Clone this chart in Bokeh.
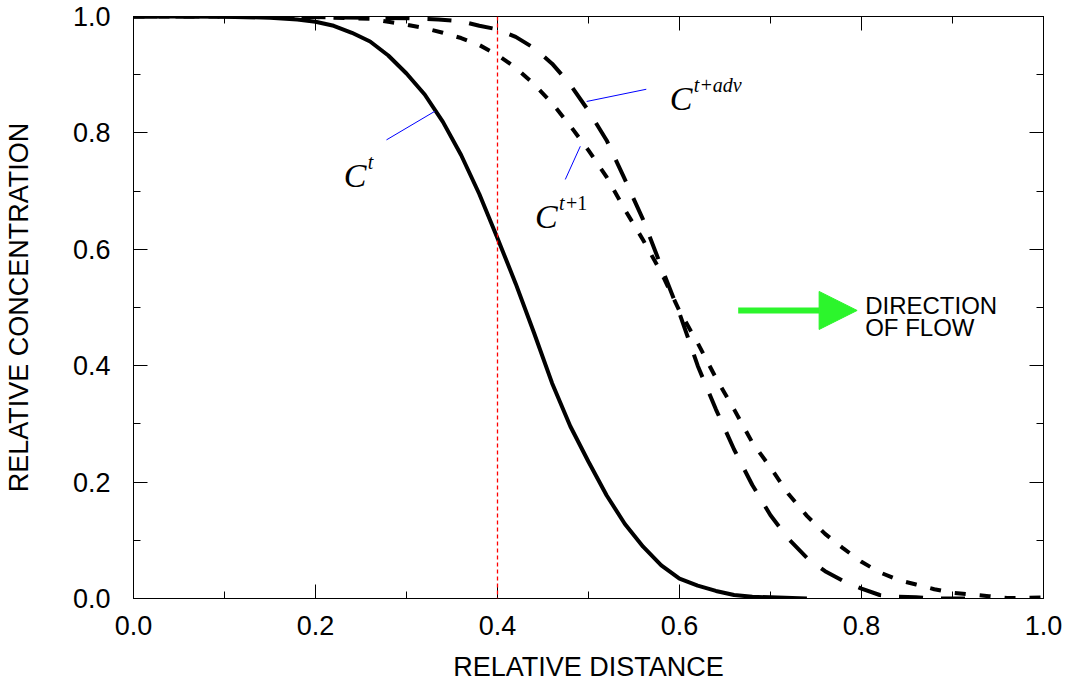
from bokeh.plotting import figure
from bokeh.models import (Range1d, LinearAxis, SingleIntervalTicker, PrintfTickFormatter,
                          Span, Label, Arrow, NormalHead, CustomJSTickFormatter)
from bokeh.embed import file_html
from bokeh.resources import INLINE

# ---- data ----
x_ct = [0.00, 0.05, 0.10, 0.15, 0.18, 0.20, 0.22, 0.24, 0.26, 0.28, 0.30, 0.32, 0.34,
        0.36, 0.38, 0.40, 0.42, 0.44, 0.46, 0.48, 0.50, 0.52, 0.54, 0.56, 0.58, 0.60,
        0.62, 0.64, 0.66, 0.68, 0.70, 0.74]
y_ct = [1.000, 1.000, 0.9995, 0.998, 0.995, 0.991, 0.984, 0.972, 0.957, 0.933, 0.902,
        0.866, 0.819, 0.762, 0.695, 0.619, 0.541, 0.457, 0.370, 0.296, 0.235, 0.177,
        0.128, 0.089, 0.057, 0.034, 0.022, 0.013, 0.006, 0.003, 0.002, 0.000]

x_adv = [0.00, 0.10, 0.20, 0.30, 0.335, 0.36, 0.38, 0.40, 0.42, 0.44, 0.46, 0.48, 0.50,
         0.52, 0.54, 0.56, 0.58, 0.60, 0.62, 0.64, 0.66, 0.68, 0.70, 0.72, 0.74, 0.76,
         0.78, 0.80, 0.82, 0.84, 0.86, 0.88, 0.93]
y_adv = [1.000, 1.000, 0.999, 0.997, 0.995, 0.992, 0.984, 0.978, 0.965, 0.946, 0.919,
         0.883, 0.838, 0.787, 0.720, 0.651, 0.570, 0.490, 0.400, 0.325, 0.256, 0.195,
         0.143, 0.102, 0.070, 0.047, 0.030, 0.017, 0.006, 0.003, 0.002, 0.000, 0.000]

x_t1 = [0.00, 0.10, 0.20, 0.237, 0.26, 0.28, 0.30, 0.32, 0.34, 0.36, 0.38, 0.40, 0.42,
        0.44, 0.46, 0.48, 0.50, 0.52, 0.54, 0.56, 0.58, 0.60, 0.62, 0.64, 0.66, 0.68,
        0.70, 0.72, 0.74, 0.76, 0.78, 0.80, 0.82, 0.84, 0.86, 0.88, 0.90, 0.92, 0.94,
        0.96, 0.98, 1.00]
y_t1 = [1.000, 1.000, 0.999, 0.997, 0.996, 0.991, 0.986, 0.980, 0.972, 0.963, 0.951,
        0.934, 0.912, 0.884, 0.851, 0.812, 0.770, 0.724, 0.668, 0.616, 0.560, 0.494,
        0.439, 0.379, 0.325, 0.268, 0.225, 0.179, 0.142, 0.111, 0.086, 0.063, 0.045,
        0.032, 0.024, 0.016, 0.010, 0.007, 0.004, 0.001, 0.001, 0.002]

x_ticks_interval = 0.2
y_ticks_interval = 0.2
marker_x = 0.4

FONT = "Liberation Sans"
SERIF = "Liberation Serif"

p = figure(width=1062, height=684, output_backend="svg", toolbar_location=None,
           x_range=Range1d(0, 1), y_range=Range1d(0, 1),
           min_border_left=130, min_border_right=19, min_border_top=16, min_border_bottom=86)
p.grid.visible = False
p.outline_line_color = "black"
p.outline_line_width = 1
p.background_fill_color = "white"
p.border_fill_color = "white"

def style_axis(ax, labels=True):
    ax.axis_line_color = "black"
    ax.axis_line_width = 1
    ax.major_tick_in = 14
    ax.major_tick_out = 0
    ax.minor_tick_in = 7
    ax.minor_tick_out = 0
    ax.major_tick_line_color = "black"
    ax.minor_tick_line_color = "black"
    if labels:
        ax.formatter = PrintfTickFormatter(format="%.1f")
        ax.major_label_text_font = FONT
        ax.major_label_text_font_size = "27px"
        ax.major_label_text_color = "black"
        ax.axis_label_text_font = FONT
        ax.axis_label_text_font_size = "27px"
        ax.axis_label_text_font_style = "normal"
        ax.axis_label_text_color = "black"
    else:
        ax.formatter = CustomJSTickFormatter(code="return ''")
        ax.major_label_text_font_size = "0px"
        ax.major_label_standoff = 0

p.xaxis.ticker = SingleIntervalTicker(interval=x_ticks_interval, num_minor_ticks=2)
p.yaxis.ticker = SingleIntervalTicker(interval=y_ticks_interval, num_minor_ticks=2)
style_axis(p.xaxis[0])
style_axis(p.yaxis[0])
p.xaxis.axis_label = "RELATIVE DISTANCE"
p.yaxis.axis_label = "RELATIVE CONCENTRATION"
p.xaxis.major_label_standoff = 17
p.xaxis.axis_label_standoff = 14
p.yaxis.major_label_standoff = 23
p.yaxis.axis_label_standoff = 36

top = LinearAxis(ticker=SingleIntervalTicker(interval=x_ticks_interval, num_minor_ticks=2))
right = LinearAxis(ticker=SingleIntervalTicker(interval=y_ticks_interval, num_minor_ticks=2))
style_axis(top, labels=False)
style_axis(right, labels=False)
p.add_layout(top, "above")
p.add_layout(right, "right")

# red dotted marker line
p.add_layout(Span(location=marker_x, dimension="height", line_color="#ff0000",
                  line_width=1.3, line_dash="4 3"))

# curves
p.line(x_ct, y_ct, line_color="black", line_width=4)
p.line(x_adv, y_adv, line_color="black", line_width=4, line_dash="24 18")
p.line(x_t1, y_t1, line_color="black", line_width=4, line_dash="11 14")

# leader lines
p.line([0.278, 0.331], [0.788, 0.837], line_color="blue", line_width=1)
p.line([0.4745, 0.491], [0.720, 0.777], line_color="blue", line_width=1)
p.line([0.498, 0.5635], [0.854, 0.875], line_color="blue", line_width=1)

def clabel(x, y, parts):
    p.add_layout(Label(x=x, y=y, text="C", text_font=SERIF, text_font_style="italic",
                       text_font_size="34px", text_color="black", text_baseline="alphabetic"))
    for txt, dx, style in parts:
        p.add_layout(Label(x=x, y=y, x_offset=dx, y_offset=13, text=txt, text_font=SERIF,
                           text_font_style=style, text_font_size="20px", text_color="black",
                           text_baseline="alphabetic"))

clabel(0.231, 0.7274, [("t", 24, "italic")])
clabel(0.4412, 0.6564, [("t", 24, "italic"), ("+1", 31, "normal")])
clabel(0.5893, 0.8598, [("t", 24, "italic"), ("+", 31, "normal"), ("adv", 43, "italic")])

# direction of flow arrow
green = "#2cf52c"
p.add_layout(Arrow(x_start=0.6645, y_start=0.4949, x_end=0.7952, y_end=0.4949,
                   line_color=green, line_width=6,
                   end=NormalHead(size=38, fill_color=green, line_color=green, line_width=1)))
p.add_layout(Label(x=0.804, y=0.504, text="DIRECTION", text_font=FONT, text_font_size="24px",
                   text_color="black", text_baseline="alphabetic"))
p.add_layout(Label(x=0.804, y=0.465, text="OF FLOW", text_font=FONT, text_font_size="24px",
                   text_color="black", text_baseline="alphabetic"))

open("out.html", "w").write(file_html(p, INLINE))
